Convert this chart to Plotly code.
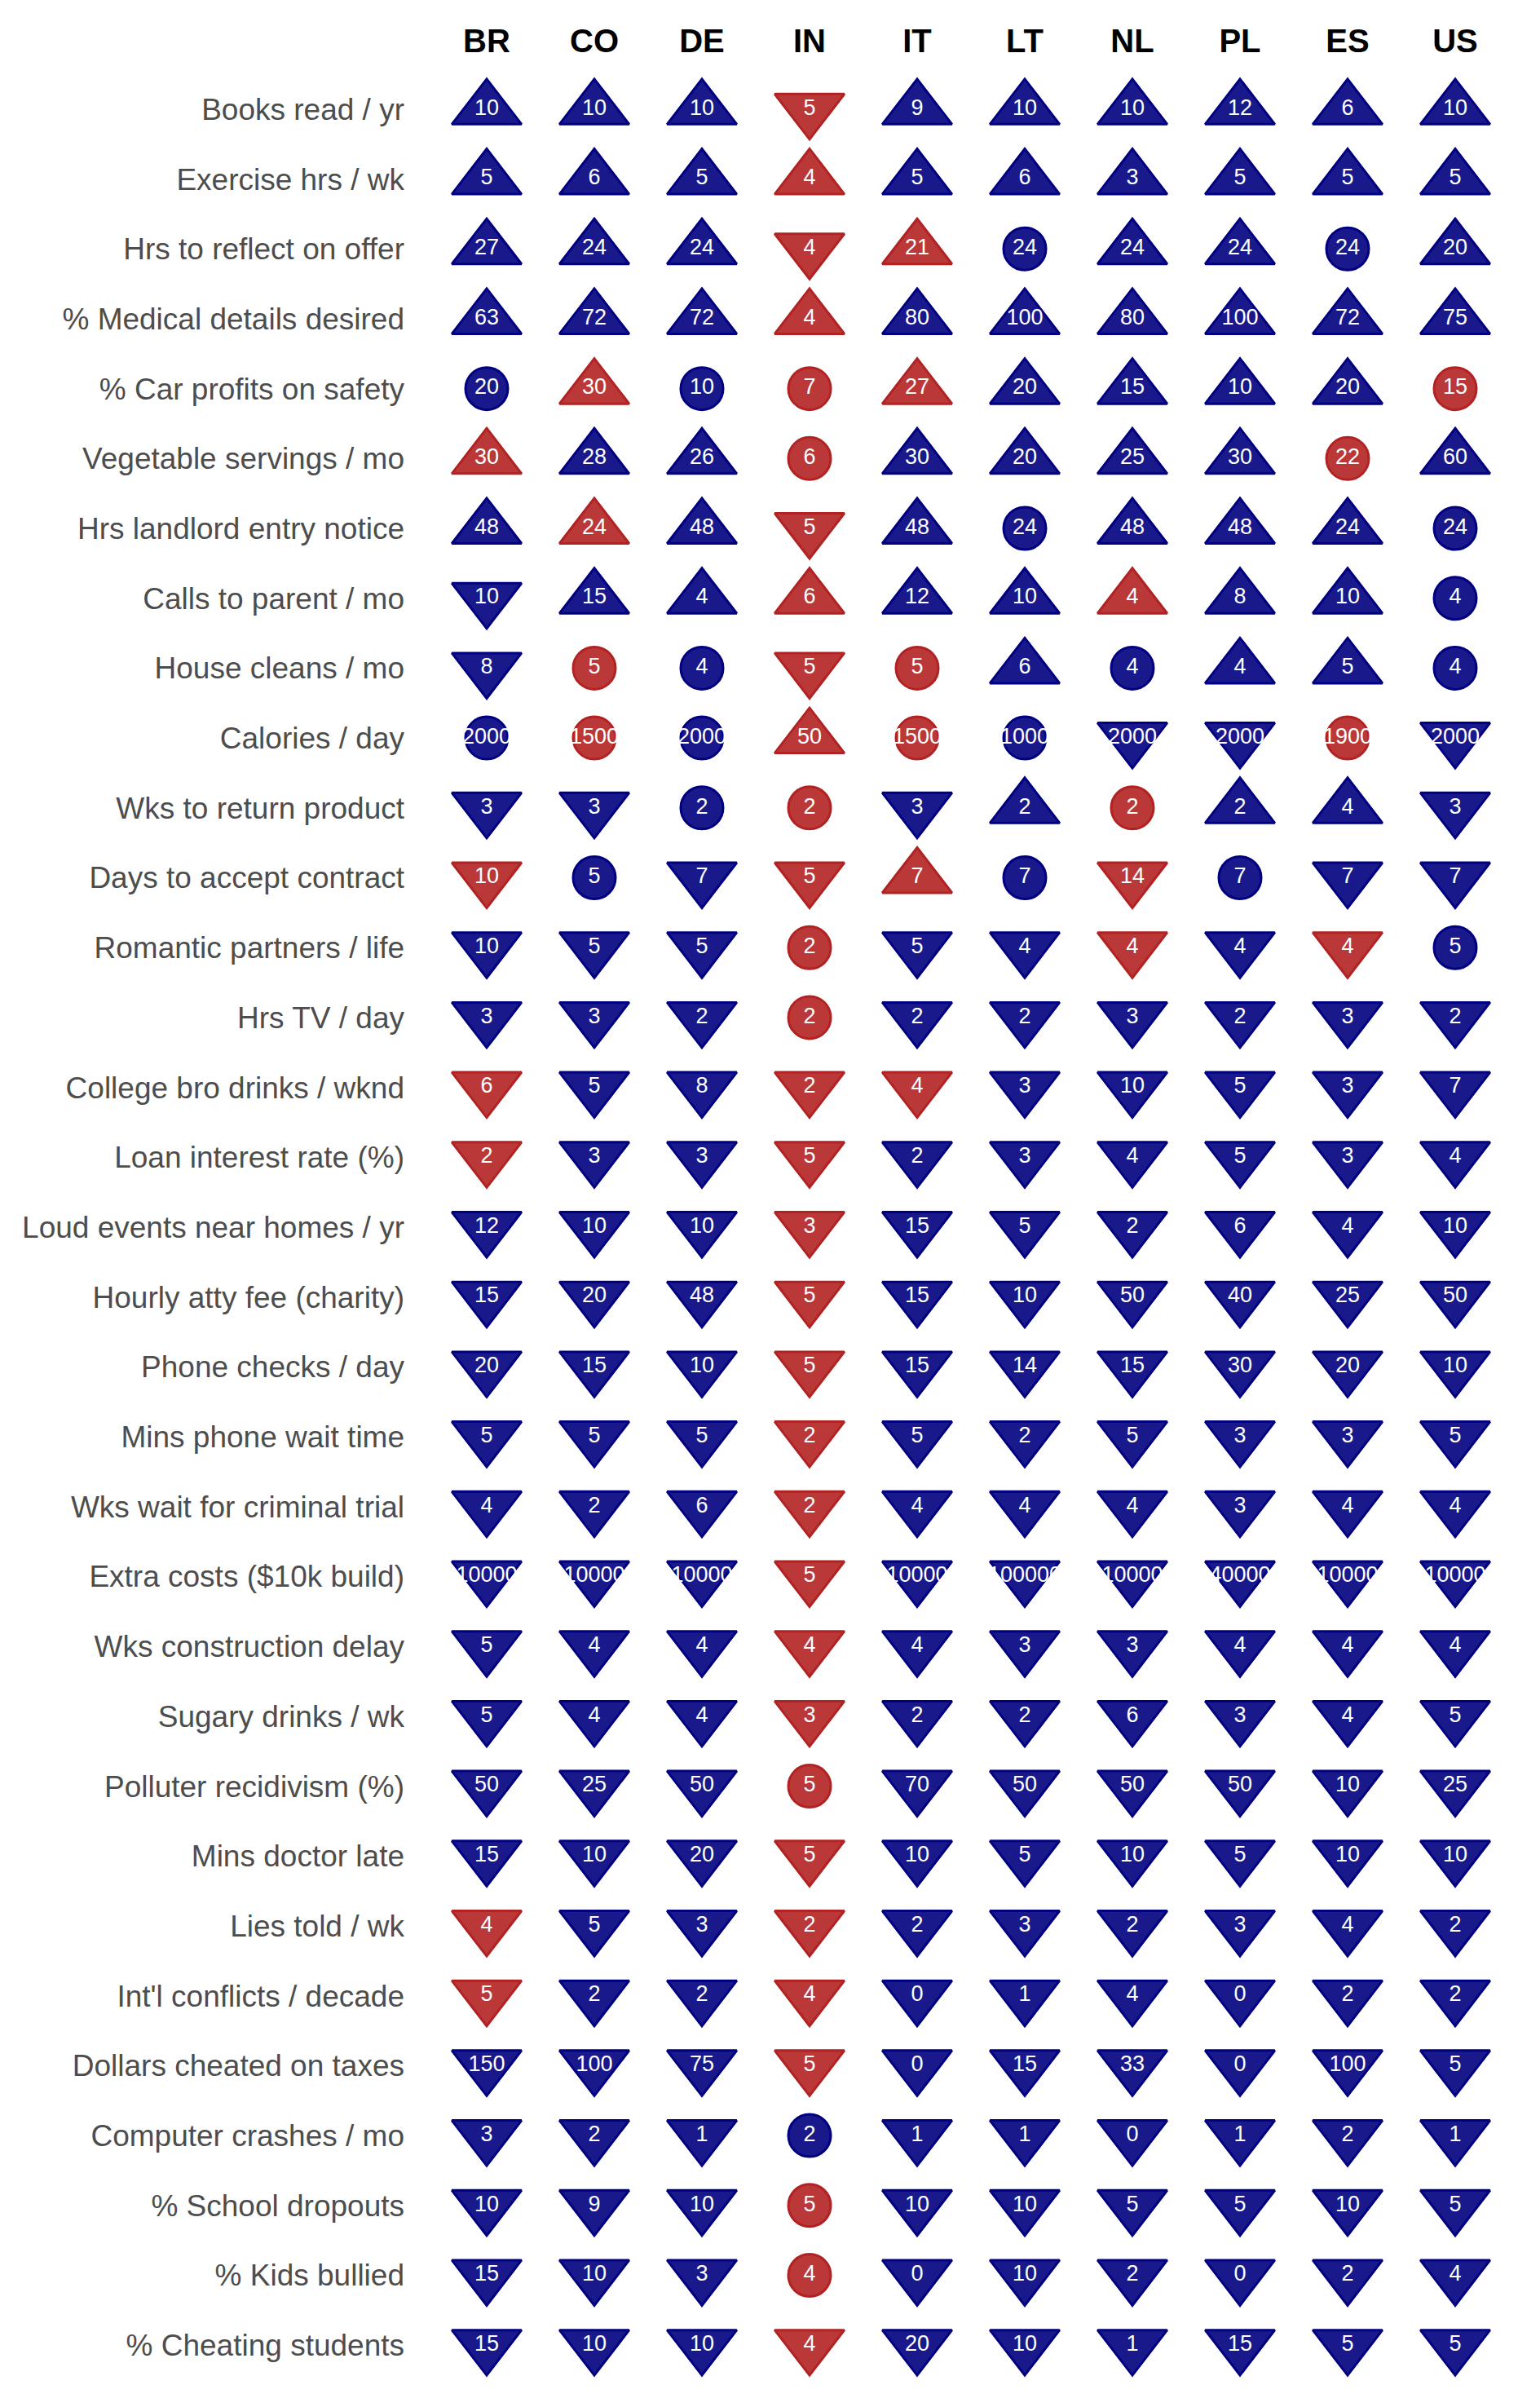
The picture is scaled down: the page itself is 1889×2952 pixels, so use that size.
import plotly.graph_objects as go

countries = ["BR", "CO", "DE", "IN", "IT", "LT", "NL", "PL", "ES", "US"]

metrics = [
    "Books read / yr", "Exercise hrs / wk", "Hrs to reflect on offer",
    "% Medical details desired", "% Car profits on safety", "Vegetable servings / mo",
    "Hrs landlord entry notice", "Calls to parent / mo", "House cleans / mo",
    "Calories / day", "Wks to return product", "Days to accept contract",
    "Romantic partners / life", "Hrs TV / day", "College bro drinks / wknd",
    "Loan interest rate (%)", "Loud events near homes / yr", "Hourly atty fee (charity)",
    "Phone checks / day", "Mins phone wait time", "Wks wait for criminal trial",
    "Extra costs ($10k build)", "Wks construction delay", "Sugary drinks / wk",
    "Polluter recidivism (%)", "Mins doctor late", "Lies told / wk",
    "Int'l conflicts / decade", "Dollars cheated on taxes", "Computer crashes / mo",
    "% School dropouts", "% Kids bullied", "% Cheating students",
]

# values per country (one per metric, in metric order)
BR = [10, 5, 27, 63, 20, 30, 48, 10, 8, 2000, 3, 10, 10, 3, 6, 2, 12, 15, 20, 5, 4, 10000, 5, 5, 50, 15, 4, 5, 150, 3, 10, 15, 15]
CO = [10, 6, 24, 72, 30, 28, 24, 15, 5, 1500, 3, 5, 5, 3, 5, 3, 10, 20, 15, 5, 2, 10000, 4, 4, 25, 10, 5, 2, 100, 2, 9, 10, 10]
DE = [10, 5, 24, 72, 10, 26, 48, 4, 4, 2000, 2, 7, 5, 2, 8, 3, 10, 48, 10, 5, 6, 10000, 4, 4, 50, 20, 3, 2, 75, 1, 10, 3, 10]
IN = [5, 4, 4, 4, 7, 6, 5, 6, 5, 50, 2, 5, 2, 2, 2, 5, 3, 5, 5, 2, 2, 5, 4, 3, 5, 5, 2, 4, 5, 2, 5, 4, 4]
IT = [9, 5, 21, 80, 27, 30, 48, 12, 5, 1500, 3, 7, 5, 2, 4, 2, 15, 15, 15, 5, 4, 10000, 4, 2, 70, 10, 2, 0, 0, 1, 10, 0, 20]
LT = [10, 6, 24, 100, 20, 20, 24, 10, 6, 1000, 2, 7, 4, 2, 3, 3, 5, 10, 14, 2, 4, 100000, 3, 2, 50, 5, 3, 1, 15, 1, 10, 10, 10]
NL = [10, 3, 24, 80, 15, 25, 48, 4, 4, 2000, 2, 14, 4, 3, 10, 4, 2, 50, 15, 5, 4, 10000, 3, 6, 50, 10, 2, 4, 33, 0, 5, 2, 1]
PL = [12, 5, 24, 100, 10, 30, 48, 8, 4, 2000, 2, 7, 4, 2, 5, 5, 6, 40, 30, 3, 3, 40000, 4, 3, 50, 5, 3, 0, 0, 1, 5, 0, 15]
ES = [6, 5, 24, 72, 20, 22, 24, 10, 5, 1900, 4, 7, 4, 3, 3, 3, 4, 25, 20, 3, 4, 10000, 4, 4, 10, 10, 4, 2, 100, 2, 10, 2, 5]
US = [10, 5, 20, 75, 15, 60, 24, 4, 4, 2000, 3, 7, 5, 2, 7, 4, 10, 50, 10, 5, 4, 10000, 4, 5, 25, 10, 2, 2, 5, 1, 5, 4, 5]

# category codes per country: U = above, D = below, O = equal ; N = typical, R = outlier
BR_dir = "UUUUOUUDDODD" + "D" * 21
CO_dir = "UUUUUUUUOODO" + "D" * 21
DE_dir = "UUUUOUUUOOOD" + "D" * 21
IN_dir = "DUDUOODUDUOD" + "OO" + "D" * 10 + "O" + "DDDD" + "OOO" + "D"
IT_dir = "UUUUUUUUOODU" + "D" * 21
LT_dir = "UUOUUUOUUOUO" + "D" * 21
NL_dir = "UUUUUUUUODOD" + "D" * 21
PL_dir = "UUUUUUUUUDUO" + "D" * 21
ES_dir = "UUOUUOUUUOUD" + "D" * 21
US_dir = "UUUUOUOOODDDO" + "D" * 20

BR_grp = "NNNNN" + "R" + "NNNNN" + "R" + "NN" + "RR" + "N" * 10 + "RR" + "NNNNN"
CO_grp = "NNNNRNRNRRNN" + "N" * 21
DE_grp = "N" * 33
IN_grp = "R" * 29 + "N" + "RRR"
IT_grp = "NNRNRNNNRRNRNNR" + "N" * 18
LT_grp = "N" * 33
NL_grp = "NNNNNNNRNNRRR" + "N" * 20
PL_grp = "N" * 33
ES_grp = "NNNNNRNNNRNNR" + "N" * 20
US_grp = "NNNNR" + "N" * 28

values = {"BR": BR, "CO": CO, "DE": DE, "IN": IN, "IT": IT, "LT": LT,
          "NL": NL, "PL": PL, "ES": ES, "US": US}
dirs = {"BR": BR_dir, "CO": CO_dir, "DE": DE_dir, "IN": IN_dir, "IT": IT_dir,
        "LT": LT_dir, "NL": NL_dir, "PL": PL_dir, "ES": ES_dir, "US": US_dir}
grps = {"BR": BR_grp, "CO": CO_grp, "DE": DE_grp, "IN": IN_grp, "IT": IT_grp,
        "LT": LT_grp, "NL": NL_grp, "PL": PL_grp, "ES": ES_grp, "US": US_grp}

symbol_map = {"U": "triangle-up", "D": "triangle-down", "O": "circle"}
size_map = {"U": 74, "D": 74, "O": 52}
fill_map = {"N": "rgba(0,0,128,0.9)", "R": "rgba(178,34,34,0.9)"}
edge_map = {"N": "rgb(0,0,128)", "R": "rgb(178,34,34)"}

xs, ys, txt, syms, sizes, fills, edges = [], [], [], [], [], [], []
for c in countries:
    for i, m in enumerate(metrics):
        xs.append(c)
        ys.append(m)
        txt.append(str(values[c][i]))
        d = dirs[c][i]
        g = grps[c][i]
        syms.append(symbol_map[d])
        sizes.append(size_map[d])
        fills.append(fill_map[g])
        edges.append(edge_map[g])

font_family = "Liberation Sans, Arial, sans-serif"

fig = go.Figure(go.Scatter(
    x=xs, y=ys, mode="markers+text", text=txt,
    textposition="middle center",
    textfont=dict(family=font_family, size=27, color="white"),
    marker=dict(symbol=syms, size=sizes, color=fills, opacity=1,
                line=dict(color=edges, width=3)),
    hoverinfo="skip", cliponaxis=False,
))

fig.update_layout(
    width=1889, height=2952,
    margin=dict(l=531, r=38, t=91, b=33),
    paper_bgcolor="white", plot_bgcolor="white",
    showlegend=False,
    font=dict(family=font_family),
)
fig.update_xaxes(
    type="category", categoryorder="array", categoryarray=countries,
    range=[-0.5, 9.5], side="top", showgrid=False, zeroline=False,
    showline=False, ticks="", ticklabelstandoff=18,
    tickfont=dict(family=font_family, size=40, color="black", weight="bold"),
)
fig.update_yaxes(
    type="category", categoryorder="array", categoryarray=metrics,
    range=[32.5, -0.5], showgrid=False, zeroline=False, showline=False,
    ticks="", ticklabelstandoff=34,
    tickfont=dict(family=font_family, size=37, color="#4d4d4d"),
)

fig.write_html("out.html")
